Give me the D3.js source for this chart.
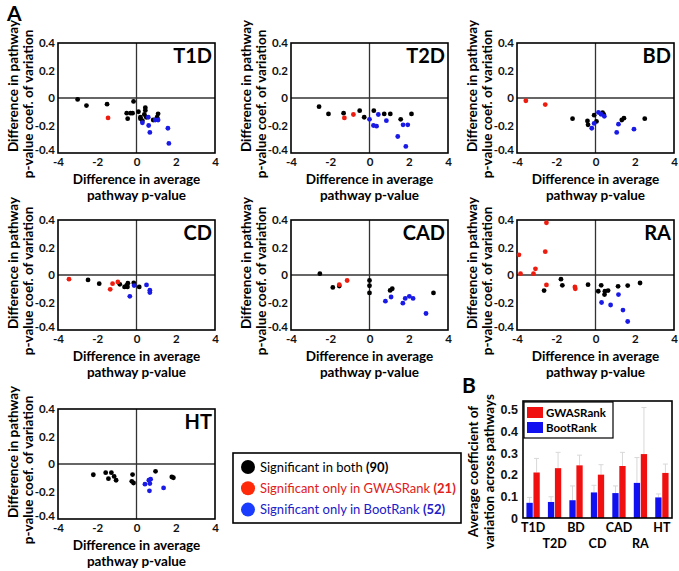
<!DOCTYPE html>
<meta charset="utf-8">
<style>
body{ margin:0; background:#fff; }
svg{ display:block; font-family: Lato, "Open Sans", sans-serif; font-weight:bold; }
</style>
<script src="https://d3js.org/d3.v7.min.js"></script>
<svg id="chart" width="679" height="571"></svg>
<script>
// scatter data, [diff in avg p-value, diff in coef. of variation]
var t1d_both = [[-3.0,-0.01],[-2.55,-0.055],[-1.5,-0.045],[-0.15,-0.025],[-0.5,-0.11],[-0.3,-0.11],[-0.45,-0.15],[-0.2,-0.11],[0.1,-0.1],[0.2,-0.15],[0.45,-0.07],[0.45,-0.09],[0.5,-0.14],[0.4,-0.12],[0.85,-0.16],[1.1,-0.115],[1.05,-0.14],[0.3,-0.165],[0.2,-0.14]]
var t1d_gwas = [[-1.45,-0.145]]
var t1d_boot = [[0.3,-0.18],[0.6,-0.14],[0.62,-0.2],[0.68,-0.25],[0.95,-0.16],[1.1,-0.16],[1.6,-0.22],[1.65,-0.33]]

var t2d_both = [[-2.57,-0.063],[-2.09,-0.116],[-1.32,-0.11],[-0.5,-0.092],[-0.27,-0.14],[0.22,-0.092],[0.75,-0.116],[1.06,-0.116],[1.59,-0.155],[2.14,-0.116]]
var t2d_gwas = [[-1.28,-0.145],[-0.82,-0.12]]
var t2d_boot = [[0,-0.155],[0.2,-0.2],[0.36,-0.205],[0.45,-0.12],[0.86,-0.165],[1.44,-0.28],[1.71,-0.195],[1.95,-0.195],[1.85,-0.352]]

var bd_both = [[-1.17,-0.15],[-0.41,-0.167],[-0.38,-0.195],[-0.07,-0.125],[0.05,-0.17],[0.36,-0.106],[0.42,-0.12],[1.34,-0.16],[1.45,-0.147],[2.51,-0.15]]
var bd_gwas = [[-3.55,-0.02],[-2.56,-0.048]]
var bd_boot = [[-0.19,-0.22],[-0.07,-0.185],[0.15,-0.105],[0.28,-0.118],[0.45,-0.133],[1.08,-0.25],[1.17,-0.19],[1.96,-0.227]]

var cd_both = [[-2.47,-0.036],[-1.9,-0.063],[-0.85,-0.068],[-0.61,-0.087],[-0.46,-0.087],[-0.44,-0.06],[-0.14,-0.058],[0.14,-0.087],[-0.5,-0.075]]
var cd_gwas = [[-3.44,-0.03],[-1.34,-0.104],[-1.22,-0.063],[-0.95,-0.05]]
var cd_boot = [[-0.34,-0.155],[-0.12,-0.077],[0.51,-0.072],[0.68,-0.11],[0.68,-0.128]]

var cad_both = [[-2.53,0.01],[-1.87,-0.09],[-1.54,-0.08],[0,-0.04],[0,-0.078],[0,-0.13],[1.05,-0.112],[1.16,-0.1],[3.26,-0.13]]
var cad_gwas = [[-1.54,-0.07],[-1.14,-0.04]]
var cad_boot = [[0.81,-0.19],[1.1,-0.16],[1.7,-0.205],[1.82,-0.17],[2.03,-0.155],[2.22,-0.17],[2.88,-0.28]]

var ra_both = [[-2.62,-0.113],[-1.76,-0.03],[-1.69,-0.075],[-0.38,-0.07],[0.14,-0.118],[0.29,-0.075],[0.46,-0.142],[0.48,-0.118],[0.64,-0.113],[1.15,-0.082],[1.64,-0.077],[2.27,-0.058]]
var ra_gwas = [[-3.9,0.147],[-3.82,0.01],[-3.16,0.01],[-3.06,0.045],[-2.5,0.38],[-2.56,0.17],[-2.5,-0.072],[-1.05,-0.087],[-1.03,-0.1]]
var ra_boot = [[0.31,-0.2],[0.77,-0.218],[1.17,-0.142],[1.4,-0.255],[1.64,-0.338]]

var ht_both = [[-2.2,-0.078],[-1.57,-0.063],[-1.28,-0.063],[-1.43,-0.107],[-1.14,-0.09],[-1.04,-0.118],[-0.2,-0.077],[-0.24,-0.126],[-0.15,-0.138],[0.97,-0.053],[1.8,-0.094],[1.88,-0.1]]
var ht_boot = [[0.43,-0.147],[0.63,-0.118],[0.72,-0.111],[0.68,-0.142],[0.66,-0.195],[1.38,-0.174]]

var x_ticks = [-4, -2, 0, 2, 4]
var y_ticks = [-0.4, -0.2, 0, 0.2, 0.4]

// panel B: average coefficient of variation across pathways
var diseases = ["T1D", "T2D", "BD", "CD", "CAD", "RA", "HT"]
var boot_mean = [0.07, 0.074, 0.082, 0.118, 0.115, 0.162, 0.095]
var boot_err = [0.095, 0.098, 0.148, 0.151, 0.148, 0.279, 0.111]
var gwas_mean = [0.21, 0.23, 0.243, 0.2, 0.24, 0.295, 0.208]
var gwas_err = [0.275, 0.303, 0.29, 0.246, 0.303, 0.51, 0.249]
var b_ticks = [0, 0.1, 0.2, 0.3, 0.4, 0.5]

var legend_labels = [["Significant in both", "(90)"], ["Significant only in GWASRank", "(21)"], ["Significant only in BootRank", "(52)"]]

var BLACK = "#000", RED = "#ee1c0e", BLUE = "#1a1ae6"
var svg = d3.select("#chart")

// plain hyphen for negatives, like the original figure
function tickFmt(d){ return d == 0 ? "0" : (d < 0 ? "-" : "") + d3.format(".1f")(Math.abs(d)) }
function intFmt(d){ return (d < 0 ? "-" : "") + Math.abs(d) }

// panels, placed by their plot box
var panels = [
  {name: "T1D", left: 58, top: 43, both: t1d_both, gwas: t1d_gwas, boot: t1d_boot},
  {name: "T2D", left: 291, top: 43, both: t2d_both, gwas: t2d_gwas, boot: t2d_boot},
  {name: "BD", left: 517, top: 43, both: bd_both, gwas: bd_gwas, boot: bd_boot},
  {name: "CD", left: 58, top: 220, both: cd_both, gwas: cd_gwas, boot: cd_boot},
  {name: "CAD", left: 291, top: 220, both: cad_both, gwas: cad_gwas, boot: cad_boot},
  {name: "RA", left: 517, top: 220, both: ra_both, gwas: ra_gwas, boot: ra_boot},
  {name: "HT", left: 58, top: 409, both: ht_both, gwas: [], boot: ht_boot}
]
var pw = 157, ph = 110

function drawPanel(p){
  var g = svg.append("g").attr("transform", "translate(" + p.left + "," + p.top + ")")
  var x = d3.scaleLinear().domain([-4, 4]).range([0, pw])
  var y = d3.scaleLinear().domain([-0.4, 0.4]).range([ph, 0])

  // zero lines
  g.append("line").attr("x1", 0).attr("x2", pw).attr("y1", y(0)).attr("y2", y(0))
    .attr("stroke", "#333").attr("stroke-width", 1.3)
  g.append("line").attr("x1", x(0)).attr("x2", x(0)).attr("y1", 0).attr("y2", ph)
    .attr("stroke", "#333").attr("stroke-width", 1.3)

  var xa = g.append("g").attr("transform", "translate(0," + ph + ")")
    .call(d3.axisBottom(x).tickValues(x_ticks).tickSize(0).tickPadding(5).tickFormat(intFmt))
  var ya = g.append("g")
    .call(d3.axisLeft(y).tickValues(y_ticks).tickSize(0).tickPadding(3).tickFormat(tickFmt))
  xa.select(".domain").remove(); ya.select(".domain").remove()
  g.selectAll(".tick text").style("font-size", "11.5px").style("font-family", "Lato, sans-serif").style("font-weight", "bold").attr("fill", "#111")
  // lift the bottom y label a little so it clears the "-4" below it
  ya.selectAll(".tick text").filter(function(d){ return d == -0.4 }).attr("dy", "0.05em")

  g.append("rect").attr("width", pw).attr("height", ph).attr("fill", "none")
    .attr("stroke", "#000").attr("stroke-width", 1.6)

  var sets = [[p.both, BLACK], [p.gwas, RED], [p.boot, BLUE]]
  sets.forEach(function(s){
    g.selectAll(null).data(s[0]).enter().append("circle")
      .attr("cx", function(d){ return x(d[0]) })
      .attr("cy", function(d){ return y(d[1]) })
      .attr("r", 2.4)
      .attr("fill", s[1])
  })

  g.append("text").attr("x", pw - 3).attr("y", 20).attr("text-anchor", "end")
    .style("font-size", "20px").text(p.name)

  // axis titles
  g.append("text").attr("x", pw / 2).attr("y", ph + 31).attr("text-anchor", "middle")
    .style("font-size", "13.5px").text("Difference in average")
  g.append("text").attr("x", pw / 2).attr("y", ph + 47).attr("text-anchor", "middle")
    .style("font-size", "13.5px").text("pathway p-value")
  g.append("text").attr("transform", "translate(-40," + (ph / 2 - 12) + ") rotate(-90)")
    .attr("text-anchor", "middle").style("font-size", "13.5px").text("Difference in pathway")
  g.append("text").attr("transform", "translate(-25," + (ph / 2 + 6) + ") rotate(-90)")
    .attr("text-anchor", "middle").style("font-size", "13.5px").text("p-value coef. of variation")
}
panels.forEach(drawPanel)

svg.append("text").attr("x", 7).attr("y", 21).style("font-size", "21px").text("A")
svg.append("text").attr("x", 462).attr("y", 393).style("font-size", "21px").text("B")

// legend of the scatter panels
var lg = svg.append("g").attr("transform", "translate(233,453)")
lg.append("rect").attr("width", 228).attr("height", 70).attr("fill", "#fff")
  .attr("stroke", "#000").attr("stroke-width", 1.6)
var lcol = [BLACK, "#ff2a0a", "#1a3cff"], tcol = ["#000", "#e0201a", "#2020c8"]
legend_labels.forEach(function(l, i){
  var yy = 14 + i * 21.3
  lg.append("circle").attr("cx", 15).attr("cy", yy).attr("r", 7).attr("fill", lcol[i])
  var t = lg.append("text").attr("x", 27).attr("y", yy + 4.5).attr("fill", tcol[i]).style("font-size", "13px")
  t.append("tspan").style("font-weight", "normal").text(l[0] + " ")
  t.append("tspan").text(l[1])
})

// panel B
var bl = 523, bt = 401, bw = 149, bh = 117
var bg = svg.append("g").attr("transform", "translate(" + bl + "," + bt + ")")
var by = d3.scaleLinear().domain([0, 0.54]).range([bh, 0])
var bx = d3.scaleBand().domain(diseases).range([0, bw]).paddingInner(0.38).paddingOuter(0.16)
var sub = d3.scaleBand().domain(["boot", "gwas"]).range([0, bx.bandwidth()]).paddingInner(0.1)

var bya = bg.append("g").call(d3.axisLeft(by).tickValues(b_ticks).tickSize(0).tickPadding(5).tickFormat(tickFmt))
bya.select(".domain").remove()
bya.selectAll("text").style("font-size", "12.5px").attr("fill", "#111")

var bars = [[boot_mean, boot_err, "boot", "#1010f0"], [gwas_mean, gwas_err, "gwas", "#f01010"]]
bars.forEach(function(b){
  var cx = function(d){ return bx(d) + sub(b[2]) + sub.bandwidth() / 2 }
  bg.selectAll(null).data(diseases).enter().append("line")
    .attr("x1", cx).attr("x2", cx)
    .attr("y1", function(d, i){ return by(b[0][i]) })
    .attr("y2", function(d, i){ return by(b[1][i]) })
    .attr("stroke", "#d8d8d8").attr("stroke-width", 1)
  bg.selectAll(null).data(diseases).enter().append("line")
    .attr("x1", function(d){ return cx(d) - 2.5 })
    .attr("x2", function(d){ return cx(d) + 2.5 })
    .attr("y1", function(d, i){ return by(b[1][i]) })
    .attr("y2", function(d, i){ return by(b[1][i]) })
    .attr("stroke", "#d8d8d8").attr("stroke-width", 1)
  bg.selectAll(null).data(diseases).enter().append("rect")
    .attr("x", function(d){ return bx(d) + sub(b[2]) })
    .attr("y", function(d, i){ return by(b[0][i]) })
    .attr("width", sub.bandwidth())
    .attr("height", function(d, i){ return bh - by(b[0][i]) })
    .attr("fill", b[3])
})

bg.append("rect").attr("width", bw).attr("height", bh).attr("fill", "none")
  .attr("stroke", "#000").attr("stroke-width", 1.6)

bg.selectAll(null).data(diseases).enter().append("text")
  .attr("x", function(d){ return bx(d) + bx.bandwidth() / 2 })
  .attr("y", function(d, i){ return bh + (i % 2 == 0 ? 14 : 30) })
  .attr("text-anchor", "middle").style("font-size", "12.5px").text(function(d){ return d })

// legend inside B
var blg = bg.append("g").attr("transform", "translate(1,1)")
blg.append("rect").attr("width", 89).attr("height", 36).attr("fill", "#fff")
  .attr("stroke", "#000").attr("stroke-width", 1.2)
blg.append("rect").attr("x", 3).attr("y", 5).attr("width", 16).attr("height", 11).attr("fill", "#f01010")
blg.append("rect").attr("x", 3).attr("y", 20).attr("width", 16).attr("height", 11).attr("fill", "#1010f0")
blg.append("text").attr("x", 22).attr("y", 15).style("font-size", "11.5px").text("GWASRank")
blg.append("text").attr("x", 22).attr("y", 30).style("font-size", "11.5px").text("BootRank")

bg.append("text").attr("transform", "translate(-45," + (bh / 2 + 12) + ") rotate(-90)")
  .attr("text-anchor", "middle").style("font-size", "13.5px").text("Average coefficient of")
bg.append("text").attr("transform", "translate(-29," + (bh / 2 + 12) + ") rotate(-90)")
  .attr("text-anchor", "middle").style("font-size", "13.5px").text("variation across pathways")
</script>
